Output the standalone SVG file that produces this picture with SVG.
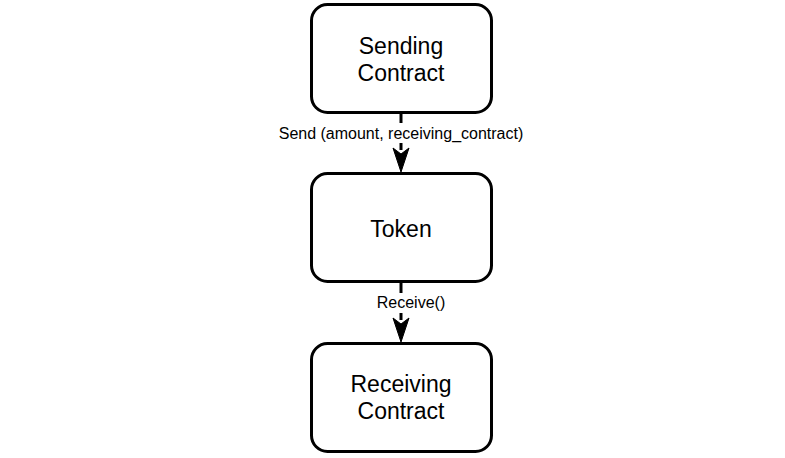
<svg xmlns="http://www.w3.org/2000/svg" width="785" height="458" viewBox="0 0 785 458">
<style>
.box{fill:#fff;stroke:#000;stroke-width:3}
.nt{font-family:"Liberation Sans",Arial,sans-serif;font-size:23px;fill:#000;text-anchor:middle}
.lt{font-family:"Liberation Sans",Arial,sans-serif;font-size:16px;fill:#000;text-anchor:middle}
.edge{stroke:#000;stroke-width:3;fill:none}
</style>
<defs>
<marker id="arr" markerUnits="userSpaceOnUse" markerWidth="20" markerHeight="26" refX="10" refY="24" orient="auto-start-reverse" viewBox="0 0 20 26">
<path d="M10,24 L2,0 L10,6 L18,0 Z" fill="#000" transform="rotate(0)"/>
</marker>
</defs>
<rect width="785" height="458" fill="#fff"/>
<g id="connectors">
<path class="edge" d="M401,113 L401,150"/>
<path d="M401,172 L393,148 L401,154 L409,148 Z" fill="#000" stroke="#000" stroke-width="1"/>
<rect x="279" y="123" width="244" height="20" fill="#fff"/>
<text class="lt" x="401" y="139">Send (amount, receiving_contract)</text>
<path class="edge" d="M401,282 L401,320"/>
<path d="M401,342 L393,318 L401,324 L409,318 Z" fill="#000" stroke="#000" stroke-width="1"/>
<rect x="375" y="293" width="72" height="20" fill="#fff"/>
<text class="lt" x="411" y="308">Receive()</text>
</g>
<g id="sending">
<rect class="box" x="311.5" y="4.5" width="180" height="108" rx="16"/>
<text class="nt" x="401" y="54">Sending</text>
<text class="nt" x="401" y="81">Contract</text>
</g>
<g id="token">
<rect class="box" x="311.5" y="173.5" width="180" height="108" rx="16"/>
<text class="nt" x="401" y="237">Token</text>
</g>
<g id="receiving">
<rect class="box" x="311.5" y="343.5" width="180" height="108" rx="16"/>
<text class="nt" x="401" y="392">Receiving</text>
<text class="nt" x="401" y="419">Contract</text>
</g>
</svg>
